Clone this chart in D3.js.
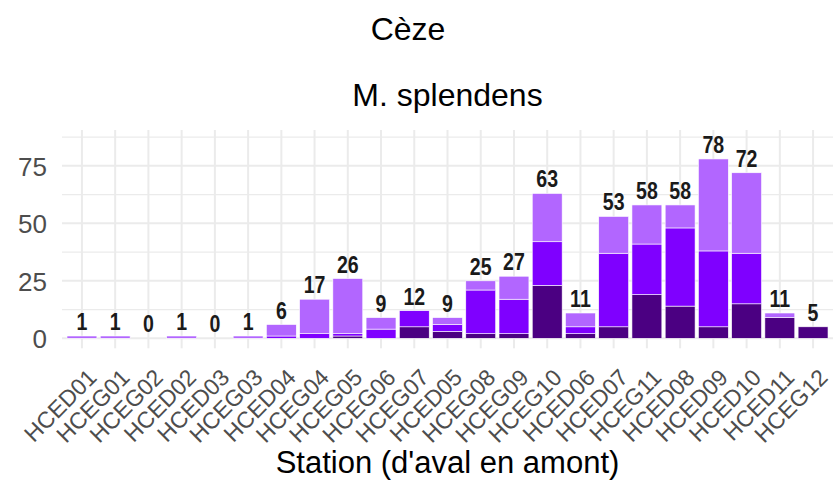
<!DOCTYPE html>
<html>
<head>
<meta charset="utf-8">
<script src="https://cdn.jsdelivr.net/npm/d3@7"></script>
<style>
  html, body { margin: 0; padding: 0; background: #ffffff; }
  svg { display: block; font-family: "Liberation Sans", Arial, sans-serif; }
</style>
</head>
<body>
<svg id="chart" width="838" height="481"></svg>
<script>
// Stations, ordered from downstream to upstream
const stations = ["HCED01","HCEG01","HCEG02","HCED02","HCED03","HCEG03","HCED04","HCEG04",
  "HCEG05","HCEG06","HCEG07","HCED05","HCEG08","HCEG09","HCEG10","HCED06","HCED07",
  "HCEG11","HCED08","HCED09","HCED10","HCED11","HCEG12"];

// Counts per class, stacked bottom to top
const classDark  = [0,0,0,0,0,0,0,0, 1,0,5,3, 2, 2,23,2, 5,19,14, 5,15,9,5];
const classMid   = [0,0,0,0,0,0,1,2, 1,4,7,3,19,15,19,3,32,22,34,33,22,0,0];
const classLight = [1,1,0,1,0,1,5,15,24,5,0,3, 4,10,21,6,16,17,10,40,35,2,0];

const classKeys = ["dark", "mid", "light"];
const classColors = ["#4B0082", "#7F00FF", "#B266FF"];

const yTicks = [0, 25, 50, 75];
const yMinor = [12.5, 37.5, 62.5, 87.5];

const titleText = "Cèze";
const subtitleText = "M. splendens";
const xTitle = "Station (d'aval en amont)";

const rows = stations.map((s, i) => ({
  station: s, dark: classDark[i], mid: classMid[i], light: classLight[i],
  total: classDark[i] + classMid[i] + classLight[i]
}));

const svg = d3.select("#chart");
const panel = { left: 62, right: 833, top: 130, bottom: 348.3 };

// Category centres on a discrete axis expanded by 0.6 on each side
const xc = d3.scaleLinear()
  .domain([0.4, stations.length + 0.6])
  .range([panel.left, panel.right]);
const unit = xc(2) - xc(1);
const barW = unit * 0.9;
const cx = s => xc(stations.indexOf(s) + 1);

const y = d3.scaleLinear()
  .domain([-4.35, 90.6])
  .range([panel.bottom, panel.top]);

// Grid
const grid = svg.append("g");
grid.selectAll(".minor").data(yMinor).join("line")
  .attr("x1", panel.left).attr("x2", panel.right)
  .attr("y1", d => y(d)).attr("y2", d => y(d))
  .attr("stroke", "#EBEBEB").attr("stroke-width", 1.2);
grid.selectAll(".major").data(yTicks).join("line")
  .attr("x1", panel.left).attr("x2", panel.right)
  .attr("y1", d => y(d)).attr("y2", d => y(d))
  .attr("stroke", "#EBEBEB").attr("stroke-width", 2);
grid.selectAll(".vert").data(stations).join("line")
  .attr("x1", d => cx(d)).attr("x2", d => cx(d))
  .attr("y1", panel.top).attr("y2", panel.bottom)
  .attr("stroke", "#EBEBEB").attr("stroke-width", 2);

// Stacked bars
const stack = d3.stack().keys(classKeys)(rows);
svg.append("g").selectAll("g").data(stack).join("g")
  .attr("fill", (d, i) => classColors[i])
  .selectAll("rect").data(d => d.filter(p => p[1] - p[0] > 0)).join("rect")
  .attr("x", d => cx(d.data.station) - barW / 2)
  .attr("width", barW)
  .attr("y", d => y(d[1]))
  .attr("height", d => y(d[0]) - y(d[1]))
  .attr("stroke", "#ffffff")
  .attr("stroke-width", 0.6);

// Total labels, slightly condensed
svg.append("g").selectAll("text").data(rows).join("text")
  .attr("transform", d => `translate(${cx(d.station)},${y(d.total) - 6}) scale(0.85,1)`)
  .attr("text-anchor", "middle")
  .attr("font-weight", "bold")
  .attr("font-size", 23)
  .attr("fill", "#1a1a1a")
  .text(d => d.total);

// Y axis labels
svg.append("g").selectAll("text").data(yTicks).join("text")
  .attr("x", 47)
  .attr("y", d => y(d) + 10)
  .attr("text-anchor", "end")
  .attr("font-size", 26)
  .attr("fill", "#4D4D4D")
  .text(d => d);

// X axis labels, rotated
svg.append("g").selectAll("text").data(stations).join("text")
  .attr("transform", d => `translate(${cx(d) + 16},379) rotate(-45)`)
  .attr("text-anchor", "end")
  .attr("font-size", 23)
  .attr("fill", "#4D4D4D")
  .text(d => d);

// Titles
svg.append("text").attr("x", 408).attr("y", 40)
  .attr("text-anchor", "middle").attr("font-size", 32).attr("fill", "#000")
  .text(titleText);
svg.append("text").attr("x", (panel.left + panel.right) / 2).attr("y", 106)
  .attr("text-anchor", "middle").attr("font-size", 32).attr("fill", "#000")
  .text(subtitleText);
svg.append("text").attr("x", (panel.left + panel.right) / 2).attr("y", 473)
  .attr("text-anchor", "middle").attr("font-size", 31).attr("fill", "#000")
  .text(xTitle);
</script>
</body>
</html>
